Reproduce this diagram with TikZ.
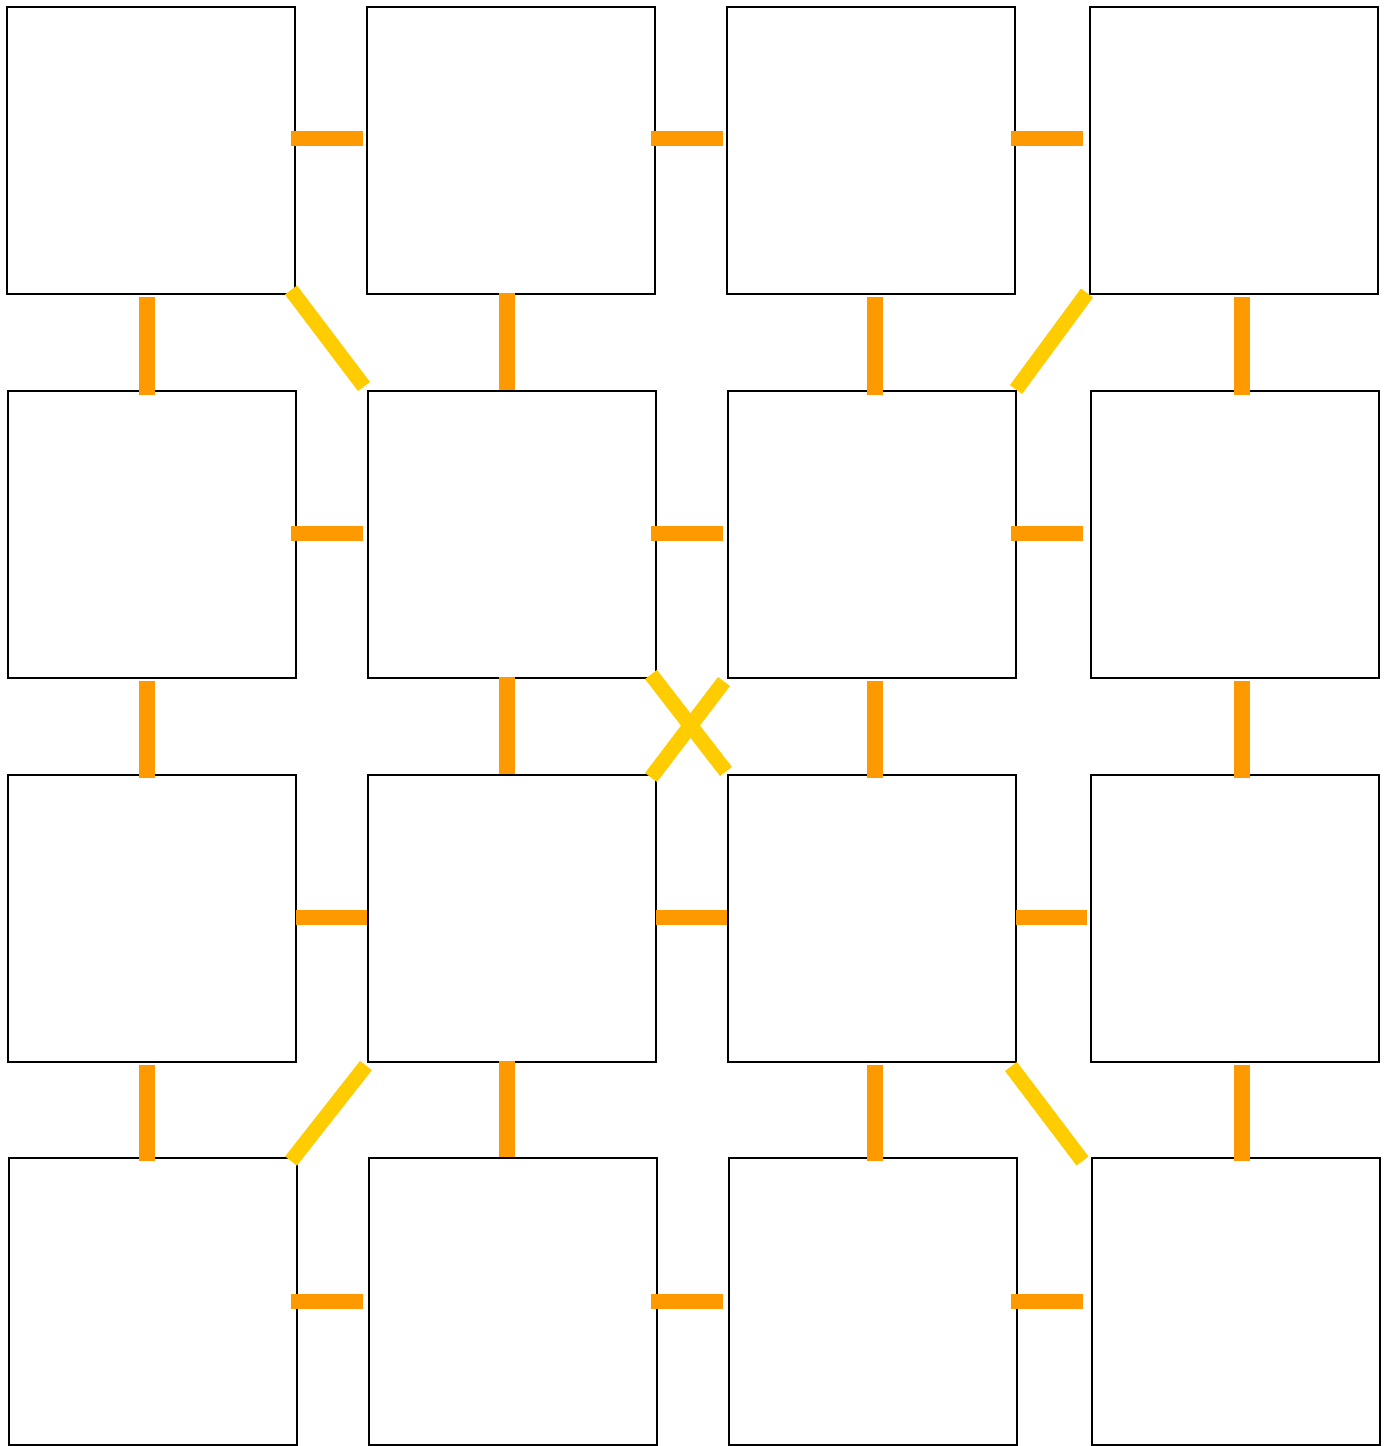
\documentclass[tikz,border=0pt]{standalone}
\usetikzlibrary{calc}
\definecolor{conorange}{HTML}{FF9900}
\definecolor{conyellow}{HTML}{FFCC00}
\tikzset{
  box/.style={draw=black, line width=2pt, fill=white, minimum width=288pt, minimum height=287pt, inner sep=0pt, outer sep=0pt},
  hcon/.style={draw=conorange, line width=15pt},
  vcon/.style={draw=conorange, line width=16pt},
  dcon/.style={draw=conyellow, line width=15pt}
}
\begin{document}
\begin{tikzpicture}[x=1pt,y=-1pt]
\useasboundingbox[fill=white] (0,0) rectangle (1390,1446);
% row 1
\node[box] (b11) at (151,150.5) {};
\node[box] (b12) at (511,150.5) {};
\node[box] (b13) at (871,150.5) {};
\node[box] (b14) at (1234,150.5) {};
% row 2
\node[box] (b21) at (152,534) {};
\node[box] (b22) at (512,534) {};
\node[box] (b23) at (872,534) {};
\node[box] (b24) at (1235,534) {};
% row 3
\node[box] (b31) at (152,918) {};
\node[box] (b32) at (512,918) {};
\node[box] (b33) at (872,918) {};
\node[box] (b34) at (1235,918) {};
% row 4
\node[box] (b41) at (153,1301.5) {};
\node[box] (b42) at (513,1301.5) {};
\node[box] (b43) at (873,1301.5) {};
\node[box] (b44) at (1236,1301.5) {};
% horizontal connectors
\draw[hcon] ($(b11.east)+(-4,-12.5)$) -- ($(b12.west)+(-4,-12.5)$);
\draw[hcon] ($(b12.east)+(-4,-12.5)$) -- ($(b13.west)+(-4,-12.5)$);
\draw[hcon] ($(b13.east)+(-4,-12.5)$) -- ($(b14.west)+(-7,-12.5)$);
\draw[hcon] ($(b21.east)+(-5,-1)$) -- ($(b22.west)+(-5,-1)$);
\draw[hcon] ($(b22.east)+(-5,-1)$) -- ($(b23.west)+(-5,-1)$);
\draw[hcon] ($(b23.east)+(-5,-1)$) -- ($(b24.west)+(-8,-1)$);
\draw[hcon] ($(b31.east)+(0,-1)$) -- ($(b32.west)+(-1,-1)$);
\draw[hcon] ($(b32.east)+(0,-1)$) -- ($(b33.west)+(-1,-1)$);
\draw[hcon] ($(b33.east)+(0,-1)$) -- ($(b34.west)+(-4,-1)$);
\draw[hcon] ($(b41.east)+(-6,-0.5)$) -- ($(b42.west)+(-6,-0.5)$);
\draw[hcon] ($(b42.east)+(-6,-0.5)$) -- ($(b43.west)+(-6,-0.5)$);
\draw[hcon] ($(b43.east)+(-6,-0.5)$) -- ($(b44.west)+(-9,-0.5)$);
% vertical connectors rows 1-2
\draw[vcon] ($(b11.south)+(-4,3)$) -- ($(b21.north)+(-5,4)$);
\draw[vcon] ($(b12.south)+(-4,-1)$) -- ($(b22.north)+(-5,-1)$);
\draw[vcon] ($(b13.south)+(4,3)$) -- ($(b23.north)+(3,4)$);
\draw[vcon] ($(b14.south)+(8,3)$) -- ($(b24.north)+(7,4)$);
% vertical connectors rows 2-3
\draw[vcon] ($(b21.south)+(-5,3)$) -- ($(b31.north)+(-5,3)$);
\draw[vcon] ($(b22.south)+(-5,-1)$) -- ($(b32.north)+(-5,-1)$);
\draw[vcon] ($(b23.south)+(3,3)$) -- ($(b33.north)+(3,3)$);
\draw[vcon] ($(b24.south)+(7,3)$) -- ($(b34.north)+(7,3)$);
% vertical connectors rows 3-4
\draw[vcon] ($(b31.south)+(-5,3)$) -- ($(b41.north)+(-6,3)$);
\draw[vcon] ($(b32.south)+(-5,-1)$) -- ($(b42.north)+(-6,-1)$);
\draw[vcon] ($(b33.south)+(3,3)$) -- ($(b43.north)+(2,3)$);
\draw[vcon] ($(b34.south)+(7,3)$) -- ($(b44.north)+(6,3)$);
% diagonal connectors
\draw[dcon] ($(b11.south east)+(-4,-4)$) -- ($(b22.north west)+(-4,-4)$);
\draw[dcon] ($(b14.south west)+(-3,-1)$) -- ($(b23.north east)+(0,-1)$);
\draw[dcon] ($(b22.south east)+(-5,-3)$) -- ($(b33.north west)+(-2,-3)$);
\draw[dcon] ($(b23.south west)+(-4,4)$) -- ($(b32.north east)+(-5,3)$);
\draw[dcon] ($(b32.south west)+(-2,4)$) -- ($(b41.north east)+(-6,3)$);
\draw[dcon] ($(b33.south east)+(-5,5)$) -- ($(b44.north west)+(-9.5,3)$);
\end{tikzpicture}
\end{document}
